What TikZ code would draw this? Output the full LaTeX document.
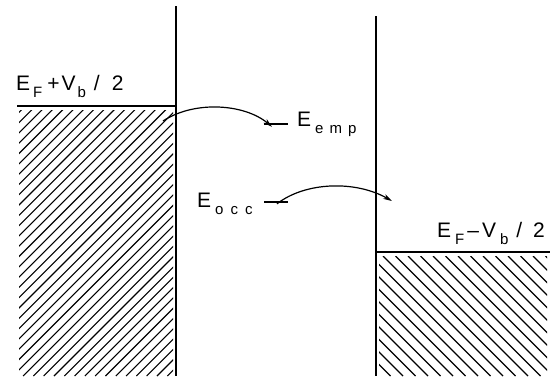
\documentclass[tikz,border=0pt]{standalone}
\usepackage{fontspec}
\setmainfont{Liberation Sans}
\usetikzlibrary{arrows.meta, positioning, calc}
\newcommand{\lsub}[1]{\raisebox{-7pt}{\fontsize{15}{15}\selectfont #1}}

\begin{document}
\begin{tikzpicture}[x=1pt, y=-1pt,
    wall/.style={line width=1.3pt},
    hatch/.style={line width=1.1pt},
    level/.style={minimum width=23pt, minimum height=0pt, inner sep=0pt},
    lbl/.style={font=\fontsize{21}{22}\selectfont, inner sep=0pt},
    hop/.style={-{Stealth[length=9pt, width=5pt]}, line width=1.2pt}]
    \useasboundingbox (0,0) rectangle (557,376);
    % barriers and Fermi levels
    \draw[wall] (176,6) -- (176,376);
    \draw[wall] (376,16) -- (376,376);
    \draw[wall] (17,106) -- (176,106);
    \draw[wall] (376,252) -- (550,252);
    % filled states
    \begin{scope}
        \clip (19,110) rectangle (173,376);
        \foreach \x in {-255,-244.7,...,175}
            \draw[hatch] (\x,376) -- ++(270,-270);
    \end{scope}
    \begin{scope}
        \clip (379,256) rectangle (547,376);
        \foreach \x in {258,270.5,...,550}
            \draw[hatch] (\x,256) -- ++(120,120);
    \end{scope}
    % labels of the leads
    \node[lbl, anchor=base west] (left) at (16,90)
        {E\hspace{3pt}\lsub{F}\hspace{5pt}+\hspace{2pt}V\hspace{2pt}\lsub{b}\hspace{8pt}/\hspace{12pt}2};
    \node[lbl, anchor=base west] (right) at (437,237)
        {E\hspace{4pt}\lsub{F}\hspace{3pt}--\hspace{3pt}V\hspace{4pt}\lsub{b}\hspace{8pt}/\hspace{11pt}2};
    % dot levels
    \node[level] (emp) at (276,124) {};
    \draw[wall] (emp.west) -- (emp.east);
    \node[lbl, anchor=base west] (emplbl) at (297,126)
        {E\hspace{4pt}\lsub{e\hspace{6pt}m\hspace{6pt}p}};
    \node[level] (occ) at (276,202) {};
    \draw[wall] (occ.west) -- (occ.east);
    \node[lbl, anchor=base west] (occlbl) at (197,207)
        {E\hspace{4pt}\lsub{o\hspace{7pt}c\hspace{7pt}c}};
    % tunnelling
    \coordinate (src) at (163,121);
    \coordinate (dst) at (392,201);
    \draw[hop] (src) .. controls (195,100) and (245,104) .. ([xshift=-4pt,yshift=-3pt]emp.north);
    \draw[hop] ([xshift=1pt,yshift=-2pt]occ.north) .. controls (305,182) and (355,180) .. (dst);
\end{tikzpicture}
\end{document}
